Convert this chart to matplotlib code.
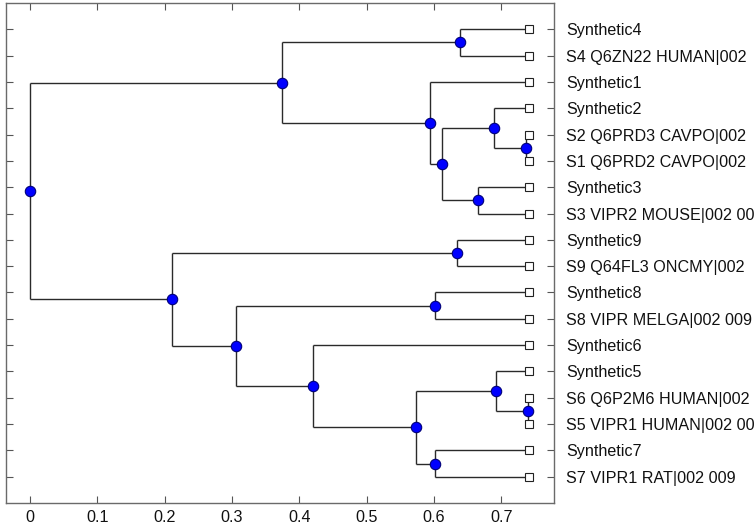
import matplotlib
matplotlib.use("Agg")
import matplotlib.pyplot as plt

plt.rcParams["font.family"] = ["Liberation Sans", "DejaVu Sans"]

# Leaf labels, top to bottom
leaf_labels = [
    "Synthetic4",
    "S4 Q6ZN22 HUMAN|002",
    "Synthetic1",
    "Synthetic2",
    "S2 Q6PRD3 CAVPO|002",
    "S1 Q6PRD2 CAVPO|002",
    "Synthetic3",
    "S3 VIPR2 MOUSE|002 00",
    "Synthetic9",
    "S9 Q64FL3 ONCMY|002",
    "Synthetic8",
    "S8 VIPR MELGA|002 009",
    "Synthetic6",
    "Synthetic5",
    "S6 Q6P2M6 HUMAN|002",
    "S5 VIPR1 HUMAN|002 00",
    "Synthetic7",
    "S7 VIPR1 RAT|002 009",
]
leaf_depth = 0.7415

# Merges: children are "L<k>" (leaf k, 1-based) or "N<j>" (merge j, 0-based)
merge_left = ["L1", "L5", "L4", "L7", "N2", "L3", "N0",
              "L9", "L11", "L15", "L14", "L17", "N10", "L13", "N8", "N7", "N6"]
merge_right = ["L2", "L6", "N1", "L8", "N3", "N4", "N5",
               "L10", "L12", "L16", "N9", "L18", "N11", "N12", "N13", "N14", "N15"]
merge_depth = [0.638, 0.737, 0.6896, 0.6659, 0.6114, 0.594, 0.3743,
               0.6337, 0.6015, 0.740, 0.692, 0.6015, 0.5733, 0.4208, 0.3064, 0.2104, 0.0]

fig = plt.figure(figsize=(7.54, 5.31), dpi=100)
ax = fig.add_axes([0.008, 0.0527, 0.7267, 0.9417])

line_kw = dict(color="#2a2a2a", lw=1.0, solid_capstyle="butt", zorder=1)

node_pos = []


def position(ref):
    if ref[0] == "L":
        k = int(ref[1:])
        return leaf_depth, float(k)
    return node_pos[int(ref[1:])]


for a, b, d in zip(merge_left, merge_right, merge_depth):
    xa, ya = position(a)
    xb, yb = position(b)
    ym = (ya + yb) / 2.0
    ax.plot([d, d], [ya, yb], **line_kw)
    ax.plot([d, xa], [ya, ya], **line_kw)
    ax.plot([d, xb], [yb, yb], **line_kw)
    node_pos.append((d, ym))

leaf_y = list(range(1, len(leaf_labels) + 1))
ax.plot([leaf_depth] * len(leaf_y), leaf_y, linestyle="none", marker="s",
        markersize=5.2, markerfacecolor="white", markeredgecolor="#222222",
        markeredgewidth=0.8, zorder=3)

ax.plot([p[0] for p in node_pos], [p[1] for p in node_pos], linestyle="none",
        marker="o", markersize=7.5, markerfacecolor="#0000ff",
        markeredgecolor="#00007a", markeredgewidth=0.8, zorder=4)

ax.set_xlim(-0.0356, 0.778)
ax.set_ylim(len(leaf_labels) + 1, 0)

ax.set_xticks([0, 0.1, 0.2, 0.3, 0.4, 0.5, 0.6, 0.7])
ax.set_xticklabels(["0", "0.1", "0.2", "0.3", "0.4", "0.5", "0.6", "0.7"])
ax.set_yticks(leaf_y)
ax.set_yticklabels(leaf_labels)

ax.tick_params(axis="both", direction="in", length=5, width=0.8, color="#555555",
               labelsize=11.6, labelcolor="#111111")
ax.tick_params(axis="x", top=True, bottom=True, pad=5)
ax.tick_params(axis="y", left=True, right=True, labelleft=False, labelright=True, pad=9)

for s in ax.spines.values():
    s.set_color("#6a6a6a")
    s.set_linewidth(1.0)

fig.savefig("out.png", dpi=100)
